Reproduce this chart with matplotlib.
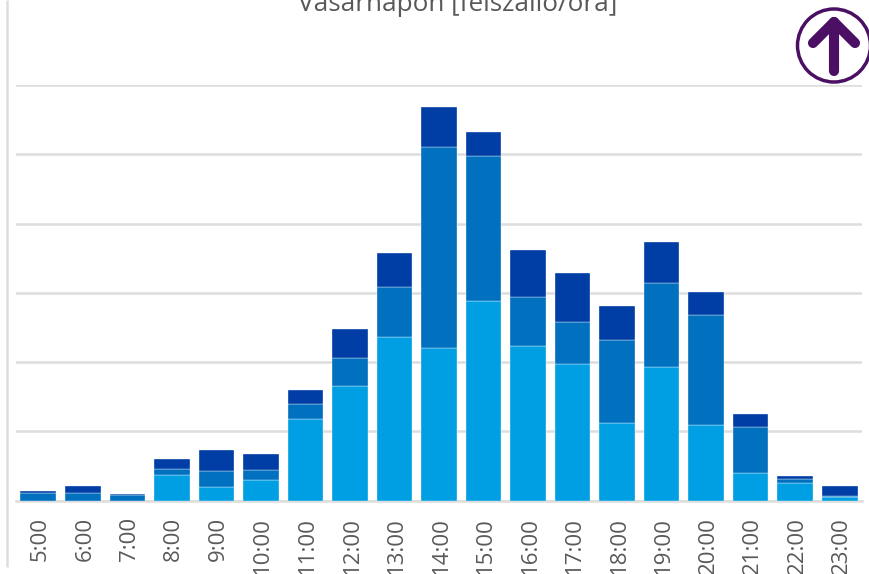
import numpy as np
import matplotlib
matplotlib.use("Agg")
import matplotlib.pyplot as plt
from matplotlib.patches import Circle
from matplotlib.transforms import ScaledTranslation

plt.rcParams['font.family'] = ['Open Sans', 'DejaVu Sans']

hours = ["5:00", "6:00", "7:00", "8:00", "9:00", "10:00", "11:00", "12:00", "13:00", "14:00",
         "15:00", "16:00", "17:00", "18:00", "19:00", "20:00", "21:00", "22:00", "23:00"]

# one gridline = 100
bottom_part = [0, 0, 0, 37, 19, 30, 117, 165, 236, 220, 288, 223, 197, 112, 193, 109, 39, 25, 5]
middle_part = [11, 11, 8, 8, 24, 14, 22, 41, 73, 290, 209, 71, 61, 120, 121, 159, 67, 6, 2]
top_part = [2, 10, 2, 15, 30, 23, 20, 41, 48, 58, 35, 68, 71, 49, 59, 33, 19, 5, 14]

grid_ticks = [0, 100, 200, 300, 400, 500, 600]

light = "#009FE3"
mid = "#0070BF"
dark = "#003DA5"
gray = "#DDDDDD"
text_col = "#595959"
purple = "#4B0F63"

W, H = 870, 574
fig = plt.figure(figsize=(W / 100, H / 100), dpi=100)

# plot area in pixels: x 16-862, y 85-500.5
ax = fig.add_axes([16 / W, 1 - 500.5 / H, 846 / W, 415.5 / H])
x = np.arange(len(hours))
bottom = np.array(bottom_part)
middle = np.array(middle_part)
top = np.array(top_part)
ax.bar(x, bottom, width=0.8, color=light, edgecolor="white", linewidth=0.25, zorder=3)
ax.bar(x, middle, width=0.8, bottom=bottom, color=mid, edgecolor="white", linewidth=0.25, zorder=3)
ax.bar(x, top, width=0.8, bottom=bottom + middle, color=dark, edgecolor="white", linewidth=0.25, zorder=3)

ax.set_xlim(-0.5, len(hours) - 0.5)
ax.set_ylim(0, 600)
ax.set_yticks(grid_ticks)
ax.set_yticklabels([])
ax.yaxis.grid(True, color=gray, linewidth=1.8, zorder=0)
ax.set_axisbelow(True)
ax.tick_params(axis="both", length=0)
ax.set_xticks(x)
ax.set_xticklabels(hours, rotation=90, fontsize=16, color=text_col, va="top", ha="center")
ax.tick_params(axis="x", pad=12)
shift = ScaledTranslation(2 / 100, 0, fig.dpi_scale_trans)
for lab in ax.get_xticklabels():
    lab.set_transform(lab.get_transform() + shift)
for s in ["top", "right", "left"]:
    ax.spines[s].set_visible(False)
ax.spines["bottom"].set_color(gray)
ax.spines["bottom"].set_linewidth(1.8)

# overlay in pixel coordinates for the frame line, title and icon
ov = fig.add_axes([0, 0, 1, 1])
ov.set_xlim(0, W)
ov.set_ylim(H, 0)
ov.axis("off")
ov.patch.set_alpha(0)
ov.plot([7, 7], [0, 567], color=gray, linewidth=1.8, solid_capstyle="butt")
ov.text(458, 11, "Vasárnapon [felszálló/óra]", fontsize=18.8, color=text_col, ha="center", va="baseline")

ov.add_patch(Circle((834, 45.5), 36.5, facecolor="white", edgecolor=purple, linewidth=2.5))
ov.plot([834, 834], [71, 22], color=purple, linewidth=7.3, solid_capstyle="round")
ov.plot([813, 834, 855], [43, 22, 43], color=purple, linewidth=7.3,
        solid_capstyle="round", solid_joinstyle="round")

fig.savefig("out.png", dpi=100)
